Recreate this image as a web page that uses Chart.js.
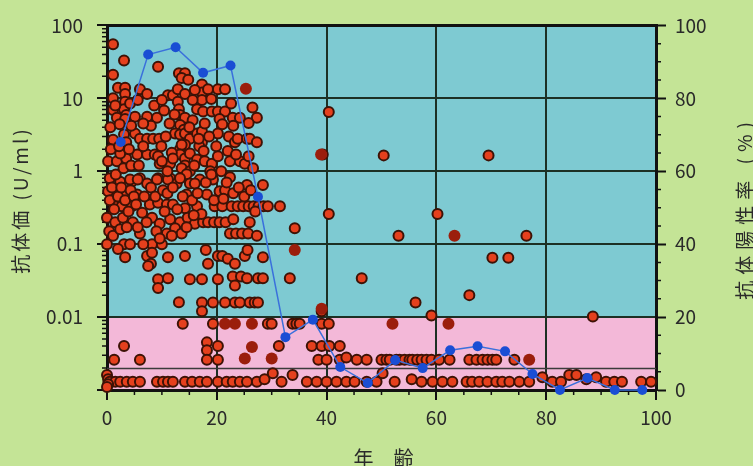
<!DOCTYPE html>
<html>
<head>
<meta charset="utf-8">
<script src="https://cdn.jsdelivr.net/npm/chart.js@4/dist/chart.umd.min.js"></script>
<style>
html,body{margin:0;padding:0;background:#c4e496;}
#wrap{width:753px;height:466px;position:relative;overflow:hidden;}
</style>
</head>
<body>
<div id="wrap"><canvas id="c" width="753" height="466"></canvas></div>
<script>
// ---------- DATA ----------
// Individual antibody titers (U/ml) by age (years)
const antibodyAge = [
  1.1,3.1,1.1,9.3,13.1,14.2,13.6,
  2.0,3.3,3.3,3.3,6.0,7.3,11.1,12.0,12.9,14.2,12.9,17.3,17.3,17.3,18.4,20.2,21.5,1.1,
  1.1,3.1,3.5,1.8,3.3,5.1,7.3,9.1,13.1,13.3,14.2,16.4,17.5,19.1,20.2,21.5,20.5,22.9,24.2,27.3,13.3,14.0,
  1.1,3.1,3.5,5.1,6.0,7.3,8.4,9.5,12.4,13.3,14.2,15.1,16.4,17.3,17.3,20.2,22.2,23.3,23.8,25.5,26.0,27.3,14.2,13.3,13.6,
  0.2,1.8,3.5,5.5,7.3,8.7,9.6,11.5,13.3,14.2,15.1,16.4,17.8,19.1,20.2,22.4,24.2,25.1,2.4,9.3,10.0,14.2,13.6,15.1,
  0.5,2.4,4.5,6.0,7.3,9.3,11.5,12.7,14.5,15.1,16.9,19.3,22.4,25.5,28.4,4.2,5.6,9.1,11.1,13.3,16.0,0.2,3.6,5.5,14.5,18.2,1.8,20.5,21.5,
  1.5,2.7,4.5,7.8,9.3,10.9,12.0,14.2,16.4,0.0,1.5,2.9,4.7,6.4,8.2,9.6,11.5,13.3,14.7,16.0,6.0,10.9,12.4,13.6,
  19.6,21.0,22.7,23.8,24.8,25.8,26.7,27.6,28.5,29.3,31.5,17.5,18.4,19.5,20.5,21.6,22.4,23.5,24.6,25.7,27.3,34.2,
  0.0,3.1,4.2,8.2,10.0,2.0,3.3,7.3,8.0,8.2,11.1,14.2,7.5,18.0,20.2,21.0,22.0,25.1,25.6,28.4,18.4,23.3,
  9.3,11.1,9.3,15.1,17.3,20.2,22.9,24.4,25.5,27.5,28.4,23.3,33.3,46.4,
  13.1,17.3,17.3,19.3,21.5,23.3,24.2,26.0,26.9,27.5,
  13.8,19.3,29.3,30.0,33.8,34.5,35.1,39.1,40.4,39.1,
  3.1,18.2,18.2,20.2,31.3,37.3,39.1,40.5,42.4,
  1.3,6.0,18.2,20.2,38.5,40.0,42.4,43.6,45.5,47.3,50.0,50.9,51.5,52.7,53.3,54.2,55.1,55.6,56.5,57.3,58.2,59.1,60.5,62.4,66.0,67.3,68.4,69.3,70.2,70.9,74.2,
  0.0,0.2,0.5,1.5,2.4,3.6,4.7,6.0,9.1,10.2,
  11.1,12.0,14.2,15.5,16.9,18.2,20.2,21.8,22.9,24.2,
  25.5,27.3,28.7,30.2,31.8,33.8,36.4,38.2,40.0,41.8,
  43.6,45.1,47.3,49.1,50.2,52.4,55.5,57.3,59.3,61.1,
  62.9,65.5,66.5,67.8,69.3,70.9,72.0,73.3,75.1,76.9,
  79.3,81.1,82.7,84.2,85.5,87.3,89.1,90.9,92.4,93.8,
  97.3,99.1,0.2,0.0,
  40.4,39.3,50.4,69.5,40.4,60.2,53.1,76.4,70.2,73.1,66.0,56.2,59.1,88.5,
  0.5,0.9,1.3,2.0,2.6,3.3,3.9,4.3,0.4,1.1,2.4,3.6,4.9,1.6,3.0,4.4,0.7,2.2,4.0,0.6,2.3,4.4,1.5,4.2,5.6,
  5.3,6.8,8.0,8.8,10.2,11.0,12.0,10.5,7.2,5.6,9.0,11.8,6.6,9.6,
  5.8,6.6,8.0,9.9,10.7,11.4,10.4,11.8,6.6,8.6,10.0,12.3,12.0,11.0,
  12.8,13.8,15.5,16.5,17.2,15.8,14.5,15.9,16.8,17.8,15.6,15.0,15.6,16.0,14.8,16.7,17.6,18.6,18.8,18.0,
  19.0,20.8,21.8,23.0,24.0,25.0,26.2,27.0,26.0,23.0,19.5,21.2,22.0,23.5,25.8,26.6,19.9,21.0,23.0,25.8,19.0,22.6,26.5
];
const antibodyTiter = [
  55,33,21,27,22,22,19,
  14,14,11.5,9,13.3,11.5,11,11,13.3,11.5,9,15.5,12,9.5,13.3,13.3,13.3,10,
  6.9,7.1,5.9,5.4,5.2,5.6,5.6,5.4,7.1,5.9,5.4,7.1,6.6,6.6,6.6,6.6,5.2,5.4,5.4,5.4,4.3,3.7,
  2.7,3.2,2.5,3.3,2.8,2.8,2.8,2.8,3.3,3.2,3.3,2.8,3.3,3.5,2.5,3.3,3.0,2.5,2.8,2.8,2.8,2.5,2.3,2.0,2.3,
  1.37,1.37,1.5,1.7,1.7,1.7,1.27,1.27,1.7,1.5,1.75,1.45,1.37,1.27,1.6,1.37,1.37,1.27,1.75,1.6,1.37,1.2,1.1,1.0,
  0.8,0.72,0.72,0.8,0.68,0.8,0.8,0.68,0.91,0.68,0.77,0.77,0.83,0.65,0.65,0.77,0.77,0.77,0.77,0.8,0.68,0.53,0.5,0.48,0.48,0.48,0.56,0.53,0.55,
  0.33,0.33,0.33,0.35,0.37,0.35,0.35,0.31,0.33,0.23,0.2,0.23,0.2,0.27,0.23,0.19,0.22,0.2,0.23,0.19,0.14,0.14,0.165,0.14,
  0.33,0.33,0.33,0.33,0.33,0.33,0.33,0.33,0.33,0.33,0.33,0.2,0.2,0.2,0.2,0.2,0.14,0.14,0.14,0.14,0.13,0.165,
  0.1,0.1,0.1,0.1,0.1,0.086,0.066,0.069,0.054,0.076,0.066,0.069,0.05,0.083,0.069,0.069,0.063,0.069,0.083,0.066,0.054,0.054,
  0.033,0.034,0.025,0.033,0.033,0.033,0.036,0.036,0.034,0.034,0.034,0.027,0.034,0.034,
  0.016,0.0158,0.012,0.0158,0.0158,0.0158,0.0158,0.0158,0.0158,0.0158,
  0.0081,0.0081,0.0081,0.0081,0.0081,0.0081,0.0081,0.0081,0.0081,0.012,
  0.004,0.0045,0.0035,0.004,0.004,0.004,0.004,0.004,0.004,
  0.0026,0.0026,0.0026,0.0026,0.0026,0.0026,0.0026,0.0028,0.0026,0.0026,0.0026,0.0026,0.0026,0.0026,0.0026,0.0026,0.0026,0.0026,0.0026,0.0026,0.0026,0.0026,0.0026,0.0026,0.0026,0.0026,0.0026,0.0026,0.0026,0.0026,0.0026,
  0.0016,0.0014,0.0013,0.0013,0.0013,0.0013,0.0013,0.0013,0.0013,0.0013,
  0.0013,0.0013,0.0013,0.0013,0.0013,0.0013,0.0013,0.0013,0.0013,0.0013,
  0.0013,0.0013,0.0014,0.0017,0.0013,0.0016,0.0013,0.0013,0.0013,0.0013,
  0.0013,0.0013,0.0013,0.0013,0.0017,0.0013,0.0014,0.0013,0.0013,0.0013,
  0.0013,0.0013,0.0013,0.0013,0.0013,0.0013,0.0013,0.0013,0.0013,0.0013,
  0.0015,0.0013,0.0013,0.0016,0.0016,0.0014,0.0015,0.0013,0.0013,0.0013,
  0.0013,0.0013,0.0012,0.0011,
  6.5,1.7,1.65,1.65,0.26,0.26,0.13,0.13,0.065,0.065,0.02,0.0158,0.0105,0.0102,
  0.4,0.6,0.3,0.45,0.6,0.4,0.28,0.55,0.15,0.13,0.16,0.17,0.45,0.9,1.1,1.2,2.0,2.2,2.0,4.0,4.4,4.2,8.0,8.5,9.5,
  0.35,0.45,0.6,0.45,0.55,0.5,0.6,0.28,0.2,0.17,0.15,0.13,0.1,0.12,
  1.2,2.2,4.2,2.2,3.0,4.5,6.8,1.8,4.5,8.0,9.5,6.0,1.5,1.0,
  0.3,0.45,0.4,0.5,0.26,0.25,0.17,1.2,2.2,4.5,5.0,4.0,9.5,13,18,2.8,1.9,3.0,1.0,0.7,
  0.9,1.0,0.7,0.5,0.6,0.45,0.55,0.28,0.2,0.22,0.4,0.42,1.9,1.7,1.6,1.1,2.2,4.4,4.2,4.6,9.8,8.5,7.5
];
// Second group (dark, unoutlined markers)
const darkAge   = [25.3,39.0,34.2,63.3,21.5,23.3,26.4,52.0,62.2,26.4,25.1,30.0,76.9,39.1];
const darkTiter = [13.5,1.7,0.083,0.13,0.0081,0.0081,0.0081,0.0081,0.0081,0.0039,0.0027,0.0027,0.0026,0.013];
// Antibody positive rate (%) by 5-year age group
const rateAge = [2.5,7.5,12.5,17.5,22.5,27.5,32.5,37.5,42.5,47.5,52.5,57.5,62.5,67.5,72.5,77.5,82.5,87.5,92.5,97.5];
const positiveRate = [68,92,94,87,89,53,14.5,19.3,6.3,1.9,8.2,6,10.9,12,10.6,4.4,0,3.3,0,0];

// Axis ticks / labels
const ageTicks = [0,20,40,60,80,100];
const titerTicks = [0.001,0.01,0.1,1,10,100];
const titerTickLabels = ['','0.01','0.1','1','10','100'];
const rateTicks = [0,20,40,60,80,100];
const leftTitle = '抗体価 (U/ml)';
const rightTitle = '抗体陽性率 (%)';
const xTitle = '年　齢';
// Reference bands
const bandTop = 0.01, bandBottom = 0.001, cutoffLine = 0.002;

// ---------- STYLE ----------
const PAGE_BG = '#c4e496', PLOT_BG = '#7ecad2', BAND_BG = '#f3b8d8';
const INK = '#111', GRID = '#1c3024', TEXT = '#2a2a2a';
const FONT = '"Noto Sans CJK JP","Noto Sans",sans-serif';

const zip = (xs, ys) => xs.map((x, i) => ({x, y: ys[i]}));

const decor = {
  id: 'decor',
  beforeDraw(chart) {
    const {ctx, chartArea: a, scales: {y}} = chart;
    ctx.save();
    ctx.fillStyle = PAGE_BG; ctx.fillRect(0, 0, chart.width, chart.height);
    ctx.fillStyle = PLOT_BG; ctx.fillRect(a.left, a.top, a.right - a.left, a.bottom - a.top);
    const t = y.getPixelForValue(bandTop), b = y.getPixelForValue(bandBottom);
    ctx.fillStyle = BAND_BG; ctx.fillRect(a.left, t, a.right - a.left, b - t);
    ctx.restore();
  },
  beforeDatasetsDraw(chart) {
    const {ctx, chartArea: a, scales: {x, y, y1}} = chart;
    ctx.save();
    const cy = Math.round(y.getPixelForValue(cutoffLine)) + 0.5;
    ctx.strokeStyle = '#3a3a3a'; ctx.lineWidth = 1.5;
    ctx.beginPath(); ctx.moveTo(a.left, cy); ctx.lineTo(a.right, cy); ctx.stroke();
    ctx.strokeStyle = INK; ctx.lineWidth = 3;
    ctx.beginPath(); ctx.moveTo(a.left - 1, a.top); ctx.lineTo(a.right + 1, a.top); ctx.stroke();
    ctx.lineWidth = 1.5; ctx.strokeStyle = INK;
    ctx.beginPath();
    for (let d = 0.001; d < 100; d *= 10) {
      for (let k = 2; k <= 9; k++) {
        const py = y.getPixelForValue(k * d);
        ctx.moveTo(a.left - 5, py); ctx.lineTo(a.left, py);
      }
    }
    for (let v = 5; v < 100; v += 5) {
      if (v % 20 === 0) continue;
      const py = y1.getPixelForValue(v);
      ctx.moveTo(a.right, py); ctx.lineTo(a.right + 5, py);
      const px = x.getPixelForValue(v);
      ctx.moveTo(px, a.bottom); ctx.lineTo(px, a.bottom + 5);
    }
    ctx.stroke();
    ctx.restore();
  },
  afterDraw(chart) {
    const {ctx, chartArea: a} = chart;
    ctx.save();
    ctx.fillStyle = TEXT;
    ctx.textAlign = 'center'; ctx.textBaseline = 'middle';
    ctx.font = '19px ' + FONT;
    ctx.save(); ctx.letterSpacing = '3px';
    ctx.translate(21, 200); ctx.rotate(-Math.PI / 2);
    ctx.fillText(leftTitle, 0, 0); ctx.restore();
    ctx.save(); ctx.letterSpacing = '6px';
    ctx.translate(745, 208); ctx.rotate(-Math.PI / 2);
    ctx.fillText(rightTitle, 0, 0); ctx.restore();
    ctx.font = '20px ' + FONT;
    ctx.fillText(xTitle, (a.left + a.right) / 2 + 2, 458);
    ctx.restore();
  }
};

new Chart(document.getElementById('c'), {
  type: 'scatter',
  data: {
    datasets: [
      {
        label: '抗体陽性率',
        data: zip(rateAge, positiveRate),
        yAxisID: 'y1',
        showLine: true,
        borderColor: '#3a70dc',
        borderWidth: 1.5,
        backgroundColor: '#1a4ed4',
        pointRadius: 5,
        pointBorderWidth: 0,
        clip: false,
        order: 0
      },
      {
        label: '抗体価',
        data: zip(antibodyAge, antibodyTiter),
        yAxisID: 'y',
        backgroundColor: '#e5401d',
        borderColor: '#3d1206',
        borderWidth: 2,
        pointRadius: 5,
        clip: false,
        order: 2
      },
      {
        label: '抗体価 (2)',
        data: zip(darkAge, darkTiter),
        yAxisID: 'y',
        backgroundColor: '#9b1e0c',
        borderWidth: 0,
        pointRadius: 6,
        clip: false,
        order: 1
      }
    ]
  },
  options: {
    responsive: false,
    animation: false,
    devicePixelRatio: 1,
    layout: {padding: {top: 23, left: 0, right: 0, bottom: 0}},
    plugins: {legend: {display: false}, tooltip: {enabled: false}},
    scales: {
      x: {
        type: 'linear', position: 'bottom', min: 0, max: 100,
        afterBuildTicks: s => { s.ticks = ageTicks.map(v => ({value: v})); },
        afterFit: s => { s.height = 76; },
        ticks: {color: TEXT, font: {family: FONT, size: 19}, padding: 6, maxRotation: 0, autoSkip: false},
        grid: {
          color: c => (c.tick && (c.tick.value === 0 || c.tick.value === 100)) ? 'rgba(0,0,0,0)' : GRID,
          lineWidth: 2, tickColor: INK, tickWidth: 2, tickLength: 10
        },
        border: {display: true, color: INK, width: 3}
      },
      y: {
        type: 'logarithmic', position: 'left', min: 0.001, max: 100,
        afterBuildTicks: s => { s.ticks = titerTicks.map(v => ({value: v})); },
        afterFit: s => { s.width = 107; },
        ticks: {
          color: TEXT, font: {family: FONT, size: 19}, padding: 14, autoSkip: false,
          callback: (v, i) => titerTickLabels[i]
        },
        grid: {
          color: c => (c.tick && (c.tick.value <= 0.001 || c.tick.value >= 100)) ? 'rgba(0,0,0,0)' : GRID,
          lineWidth: 2, tickColor: INK, tickWidth: 2, tickLength: 10
        },
        border: {display: true, color: INK, width: 3}
      },
      y1: {
        type: 'linear', position: 'right', min: 0, max: 100,
        afterBuildTicks: s => { s.ticks = rateTicks.map(v => ({value: v})); },
        afterFit: s => { s.width = 97; },
        ticks: {color: TEXT, font: {family: FONT, size: 19}, padding: 9, autoSkip: false},
        grid: {drawOnChartArea: false, tickColor: INK, tickWidth: 2, tickLength: 10},
        border: {display: true, color: INK, width: 3}
      }
    }
  },
  plugins: [decor]
});
</script>
</body>
</html>
